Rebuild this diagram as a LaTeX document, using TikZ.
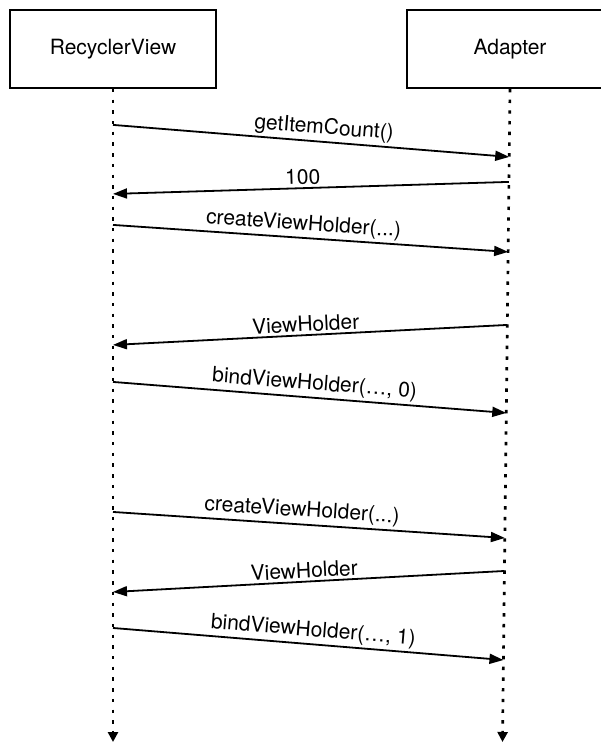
\documentclass[tikz,border=0pt]{standalone}
\usepackage{fontspec}
\setmainfont{TeX Gyre Heros}
\usetikzlibrary{arrows.meta, positioning, calc}
\tikzset{
  every picture/.style={line width=1.8pt},
  actor/.style={draw, minimum width=206pt, minimum height=78pt, inner sep=0pt, font=\fontsize{21}{25}\selectfont},
  life/.style={-{Triangle[length=10pt, width=10pt]}, line width=2.7pt, dash pattern=on 3.4pt off 7.3pt},
  msg/.style={-{Triangle[length=14pt, width=10pt]}, line width=1.8pt},
  lbl/.style={font=\fontsize{21}{25}\selectfont, sloped, above, inner sep=2.5pt},
}

\begin{document}
\begin{tikzpicture}[x=1pt, y=-1pt]
  \useasboundingbox (0,0) rectangle (601,742);
  \clip (0,0) rectangle (601,742);
  \node[actor] (rv) at (113,49) {RecyclerView};
  \node[actor] (ad) at (510,49) {Adapter};
  \coordinate (rvend) at (113,742);
  \coordinate (adend) at (502.5,742);
  \draw[life] (rv.south) -- (rvend);
  \draw[life] (ad.south) -- (adend);
  % points on the two lifelines, one pair per message
  \foreach \i/\yl/\yr in {1/125/157, 2/194/182, 3/225/252, 4/345/325, 5/382/413, 6/512/538, 7/592/571, 8/628/660} {
    \coordinate (l\i) at ($(rv.south)!{(\yl-89)/653}!(rvend)$);
    \coordinate (r\i) at ($(ad.south)!{(\yr-89)/653}!(adend)$);
  }
  \draw[msg] (l1) -- node[lbl, pos=0.53] {getItemCount()} (r1);
  \draw[msg] (r2) -- node[lbl, pos=0.52] {100} (l2);
  \draw[msg] (l3) -- node[lbl, pos=0.48] {createViewHolder(...)} (r3);
  \draw[msg] (r4) -- node[lbl, pos=0.51] {ViewHolder} (l4);
  \draw[msg] (l5) -- node[lbl, pos=0.51] {bindViewHolder(…, 0)} (r5);
  \draw[msg] (l6) -- node[lbl, pos=0.48] {createViewHolder(...)} (r6);
  \draw[msg] (r7) -- node[lbl, pos=0.51] {ViewHolder} (l7);
  \draw[msg] (l8) -- node[lbl, pos=0.51] {bindViewHolder(…, 1)} (r8);
\end{tikzpicture}
\end{document}
